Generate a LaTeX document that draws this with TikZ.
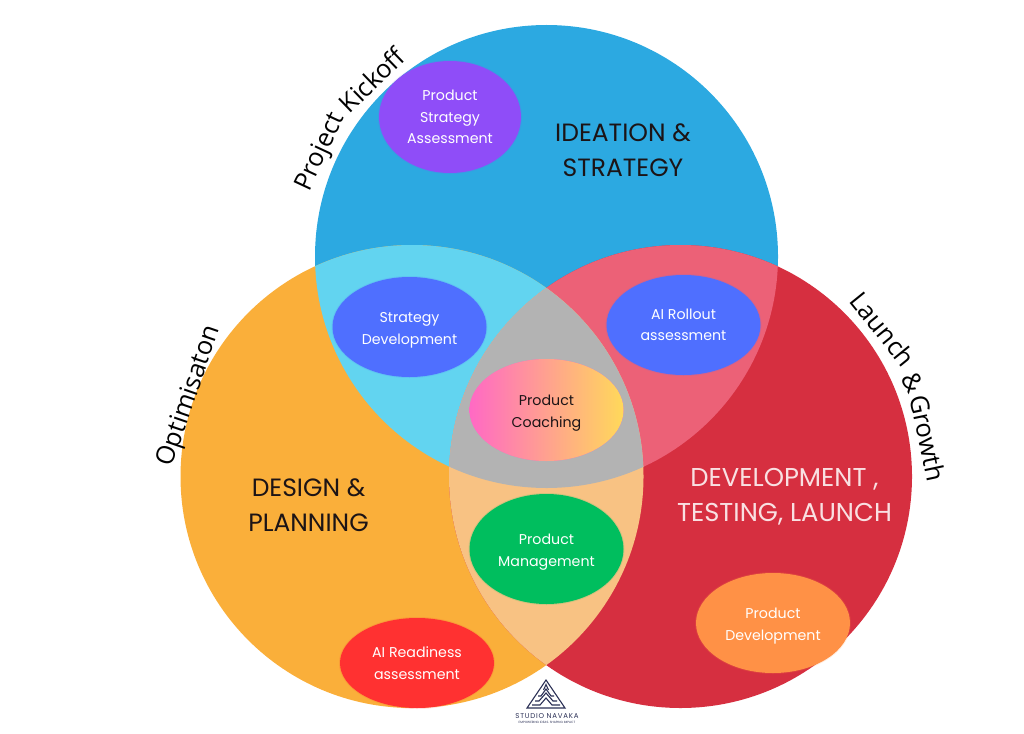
\documentclass[tikz,border=0pt]{standalone}
\usepackage{fontspec}
\setmainfont{Poppins}
\newfontfamily\arcfont{Open Sans}
\newfontfamily\logofont[LetterSpace=11]{Poppins}
\usetikzlibrary{shapes.geometric}
\definecolor{ideaBlue}{HTML}{2CA9E1}
\definecolor{designOrange}{HTML}{FAAF3A}
\definecolor{launchRed}{HTML}{D62F40}
\definecolor{blueOrange}{HTML}{62D4F0}
\definecolor{blueRed}{HTML}{EC6177}
\definecolor{orangeRed}{HTML}{F8C283}
\definecolor{allGray}{HTML}{B3B3B3}
\definecolor{inkDark}{HTML}{1C1416}
\definecolor{logoNavy}{HTML}{2A2F55}
\definecolor{blobViolet}{HTML}{8F4DF8}
\definecolor{blobBlue}{HTML}{4F6FFF}
\definecolor{blobGreen}{HTML}{00BE5E}
\definecolor{blobPeach}{HTML}{FF9146}
\definecolor{blobRed}{HTML}{FF3131}
\definecolor{blobPink}{HTML}{FF69C4}
\definecolor{blobYellow}{HTML}{FFD95A}
\tikzset{
    venn_blob/.style={
        ellipse,
        inner sep=0pt,
        fill=#1,
        draw=#1,
        draw opacity=.15,
        line width=2pt,
        text=white,
        align=center,
        minimum width=154pt,
        minimum height=100pt,
        font=\fontsize{14.2}{21.5}\selectfont
    },
    venn_head/.style={
        align=center,
        text=inkDark,
        font=\fontsize{25}{35}\selectfont
    },
    arc_label/.style={
        inner sep=0pt,
        text=black,
        font=\arcfont\fontsize{25.5}{26}\selectfont
    },
    logo_line/.style={
        draw=logoNavy,
        line width=1.1pt,
        line join=miter
    }
}
\newcommand{\vennrad}{231.5}
\newcommand{\blobtop}{\rule{0pt}{17pt}}
\begin{document}
\begin{tikzpicture}[x=1pt, y=-1pt]
    \useasboundingbox (0,0) rectangle (1024,733);
    \coordinate (blueC) at (546.5,256.5);
    \coordinate (orangeC) at (412,476.5);
    \coordinate (redC) at (680.5,476.5);

    % the three circles and their overlaps
    \fill[ideaBlue] (blueC) circle[radius=\vennrad];
    \fill[designOrange] (orangeC) circle[radius=\vennrad];
    \fill[launchRed] (redC) circle[radius=\vennrad];
    \begin{scope}
        \clip (blueC) circle[radius=\vennrad];
        \fill[blueOrange] (orangeC) circle[radius=\vennrad];
        \fill[blueRed] (redC) circle[radius=\vennrad];
    \end{scope}
    \begin{scope}
        \clip (orangeC) circle[radius=\vennrad];
        \fill[orangeRed] (redC) circle[radius=\vennrad];
        \clip (redC) circle[radius=\vennrad];
        \fill[allGray] (blueC) circle[radius=\vennrad];
    \end{scope}

    \node[venn_head] (ideation) at (623,150) {IDEATION \&\\STRATEGY};
    \node[venn_head] (design) at (308.5,505) {DESIGN \&\\PLANNING};
    \node[venn_head, text=white!85!launchRed, font=\fontsize{25.8}{35}\selectfont] (developTest) at (784.5,496.5) {DEVELOPMENT ,\\TESTING, LAUNCH};

    \node[venn_blob=blobViolet, minimum width=142pt, minimum height=112pt] (strategyAssess) at (450,117) {Product\\Strategy\\Assessment};
    \node[venn_blob=blobBlue] (strategyDev) at (409.5,327) {\blobtop Strategy\\Development};
    \node[venn_blob=blobBlue] (rollout) at (683.5,325) {AI Rollout\\assessment};
    \node[venn_blob=blobPink, left color=blobPink, right color=blobYellow, draw=none, text=inkDark, minimum height=102pt] (coaching) at (546.5,410) {\blobtop Product\\Coaching};
    \node[venn_blob=blobGreen, minimum height=110pt] (management) at (546.5,549) {\blobtop Product\\Management};
    \node[venn_blob=blobPeach] (productDev) at (773,623) {\blobtop Product\\Development};
    \node[venn_blob=blobRed, minimum height=90pt] (readiness) at (417,663) {AI Readiness\\assessment};

    % labels beside the circles
    \node[arc_label, rotate=65] (projectWord) at (321,152) {Project};
    \node[arc_label, rotate=44] (kickoffWord) at (372,80) {Kickoff};
    \node[arc_label, rotate=71] (optimise) at (190,396) {Optimisaton};
    \node[arc_label, rotate=-51] (launchWord) at (883,329) {Launch};
    \node[arc_label, rotate=-62] (andWord) at (913,382) {\&};
    \node[arc_label, rotate=-78] (growthWord) at (928,438) {Growth};

    % logo
    \draw[logo_line] (527,708) -- (546,680) -- (565,708) -- cycle;
    \draw[logo_line] (532,705) -- (540,705) -- (546,698) -- (552,705) -- (560,705);
    \draw[logo_line] (535,701) -- (539,701) -- (546,693) -- (553,701) -- (557,701);
    \draw[logo_line] (538,696) -- (541,696) -- (546,689) -- (551,696) -- (554,696);
    \draw[logo_line] (543.5,690) -- (546,684.5) -- (548.5,690);
    \node[text=logoNavy, inner sep=0pt, font=\logofont\fontsize{7}{8}\selectfont] (logoName) at (547,716) {STUDIO NAVAKA};
    \node[text=logoNavy, inner sep=0pt, font=\fontsize{3.1}{4}\selectfont] (logoLine) at (547,722) {EMPOWERING IDEAS. SHAPING IMPACT};
\end{tikzpicture}
\end{document}
